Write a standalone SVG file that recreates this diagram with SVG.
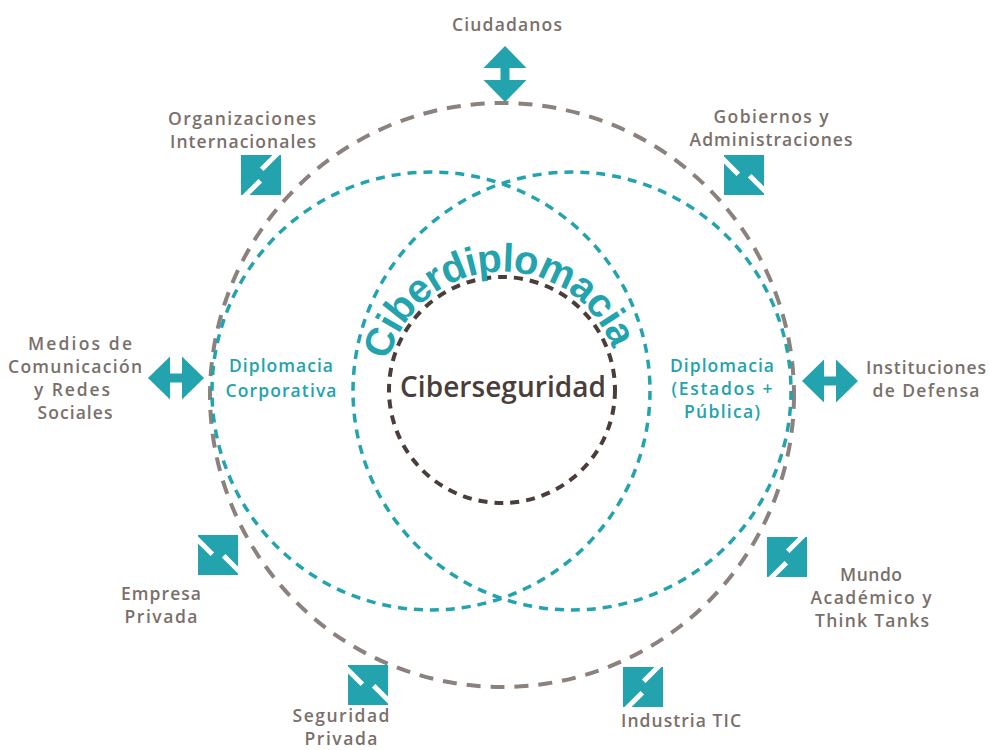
<svg xmlns="http://www.w3.org/2000/svg" xmlns:xlink="http://www.w3.org/1999/xlink" width="989" height="750" viewBox="0 0 989 750">
  <style>
    .ring-outer { fill: none; stroke: #8b817d; stroke-width: 4; stroke-dasharray: 14 10; }
    .ring-teal { fill: none; stroke: #22a3ae; stroke-width: 3.5; stroke-dasharray: 9 7; }
    .ring-core { fill: none; stroke: #4a3e3a; stroke-width: 4; stroke-dasharray: 9 7; }
    .arrow { fill: #22a3ae; }
    .label { font-family: "Open Sans", "Liberation Sans", sans-serif; font-weight: 600; font-size: 17.5px; fill: #7a706b; text-anchor: middle; }
    .teal-label { font-family: "Open Sans", "Liberation Sans", sans-serif; font-weight: 600; font-size: 17.5px; fill: #22a3ae; text-anchor: middle; }
    .core-label { font-family: "Open Sans", "Liberation Sans", sans-serif; font-weight: 600; font-size: 28px; fill: #4a3e3a; text-anchor: middle; }
    .arc-label { font-family: "Liberation Sans", Arial, sans-serif; font-weight: 700; font-size: 40px; fill: #22a3ae; letter-spacing: -0.9px; }
  </style>
  <defs>
    <!-- double-headed arrow along the x axis -->
    <g id="arrow-line" class="arrow">
      <polygon points="-28,0 -6,-21.5 -6,21.5"/>
      <polygon points="28,0 6,-21.5 6,21.5"/>
      <rect x="-6.5" y="-4.5" width="13" height="9"/>
    </g>
    <!-- square double arrow, axis from top-left to bottom-right;
         two staggered white cuts leave a short diagonal shaft -->
    <g id="arrow-diag">
      <rect class="arrow" x="-20" y="-20" width="40" height="40"/>
      <g transform="rotate(45)" fill="#fff">
        <rect x="-6" y="-29" width="5" height="24.5"/>
        <rect x="1" y="4.5" width="5" height="24.5"/>
      </g>
    </g>
    <path id="arc-path" d="M 388.7 360.7 A 117 117 0 0 1 619 380"/>
  </defs>

  <!-- rings -->
  <g id="rings">
    <circle class="ring-outer" cx="502" cy="395" r="292"/>
    <circle class="ring-teal" cx="431" cy="391" r="219"/>
    <circle class="ring-teal" cx="572" cy="391" r="219"/>
    <circle class="ring-core" cx="502" cy="390" r="113"/>
  </g>

  <!-- arrows linking each actor to the rings -->
  <g id="connectors">
    <use xlink:href="#arrow-line" transform="translate(505,74) rotate(90)"/>
    <use xlink:href="#arrow-diag" transform="translate(261,175)"/>
    <use xlink:href="#arrow-diag" transform="translate(744,175) rotate(90)"/>
    <use xlink:href="#arrow-line" transform="translate(176,378)"/>
    <use xlink:href="#arrow-line" transform="translate(830,381)"/>
    <use xlink:href="#arrow-diag" transform="translate(218,555) rotate(90)"/>
    <use xlink:href="#arrow-diag" transform="translate(787,557)"/>
    <use xlink:href="#arrow-diag" transform="translate(368,685) rotate(90)"/>
    <use xlink:href="#arrow-diag" transform="translate(643,687)"/>
  </g>

  <!-- centre -->
  <g id="ciberdiplomacia">
    <text class="arc-label"><textPath xlink:href="#arc-path">Ciberdiplomacia</textPath></text>
  </g>
  <g id="ciberseguridad">
    <text class="core-label" x="503" y="397" textLength="206">Ciberseguridad</text>
  </g>
  <g id="diplomacia-corporativa">
    <text class="teal-label" x="281" y="372" textLength="104">Diplomacia</text>
    <text class="teal-label" x="281" y="397" textLength="111">Corporativa</text>
  </g>
  <g id="diplomacia-estados">
    <text class="teal-label" x="722" y="372" textLength="104">Diplomacia</text>
    <text class="teal-label" x="722" y="395" textLength="101">(Estados +</text>
    <text class="teal-label" x="722" y="418" textLength="76">Pública)</text>
  </g>

  <!-- actors -->
  <g id="ciudadanos">
    <text class="label" x="507" y="31" textLength="110">Ciudadanos</text>
  </g>
  <g id="organizaciones">
    <text class="label" x="242" y="125" textLength="148">Organizaciones</text>
    <text class="label" x="243" y="148" textLength="146">Internacionales</text>
  </g>
  <g id="gobiernos">
    <text class="label" x="771" y="123" textLength="115">Gobiernos y</text>
    <text class="label" x="771" y="146" textLength="163">Administraciones</text>
  </g>
  <g id="medios">
    <text class="label" x="80" y="350" textLength="104">Medios de</text>
    <text class="label" x="75" y="373" textLength="134">Comunicación</text>
    <text class="label" x="72" y="396" textLength="76">y Redes</text>
    <text class="label" x="75" y="419" textLength="75">Sociales</text>
  </g>
  <g id="instituciones">
    <text class="label" x="926" y="374" textLength="120">Instituciones</text>
    <text class="label" x="926" y="397" textLength="107">de Defensa</text>
  </g>
  <g id="empresa">
    <text class="label" x="161" y="600" textLength="80">Empresa</text>
    <text class="label" x="161" y="623" textLength="73">Privada</text>
  </g>
  <g id="mundo-academico">
    <text class="label" x="871" y="581" textLength="62">Mundo</text>
    <text class="label" x="871" y="604" textLength="121">Académico y</text>
    <text class="label" x="872" y="627" textLength="114">Think Tanks</text>
  </g>
  <g id="seguridad">
    <text class="label" x="341" y="722" textLength="97">Seguridad</text>
    <text class="label" x="341" y="745" textLength="73">Privada</text>
  </g>
  <g id="industria">
    <text class="label" x="681" y="727" textLength="120">Industria TIC</text>
  </g>
</svg>
